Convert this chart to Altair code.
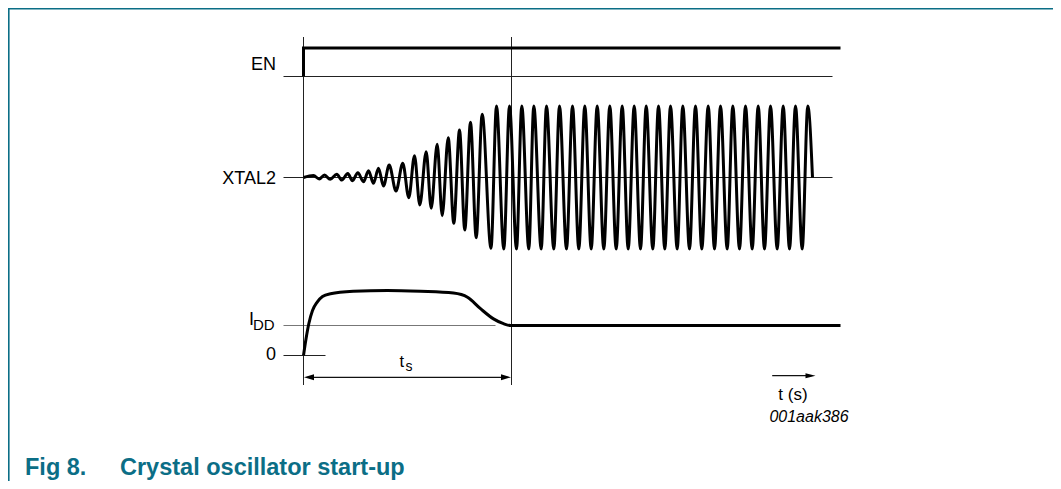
import altair as alt
import pandas as pd

# ---------------- data (time in arbitrary units: t=0 at EN rising edge) ----------------
T_S = 208          # start-up time t_s
T_END = 537        # end of the drawn traces
T_REF0, T_REF1 = -20, 529   # extent of thin reference baselines

# EN signal (0 = low, 1 = high)
en_t = [0, 0, T_END]
en_v = [0, 1, 1]

# XTAL2 extrema (normalised: steady amplitude = 1)
xtal_t = [0, 10, 15.7, 21, 26.7, 33.3, 38.3, 44.3, 49, 54.3, 60, 65, 70, 75, 80, 85.7,
          92.5, 99.3, 105.3, 111, 116.3, 122.7, 127.7, 133.7, 138.7, 144.7, 150.3, 156,
          161.3, 167, 172.7, 178.7, 187.5, 193, 200.3, 206,
          213, 218.3, 225.3, 230.3, 237.7, 243, 250.3, 256, 263, 269, 275.3, 281.3,
          287.7, 293.7, 300.3, 306.3, 312.7, 318.7, 324.7, 330.7, 337, 342.7, 349.3, 355,
          361.3, 367, 373.7, 379.3, 386, 392, 398.3, 404.7, 411, 417, 423.7, 429.3,
          436, 442, 448.7, 454.7, 461, 467, 473.7, 479.7, 486, 492, 498.7, 504.3, 509]
xtal_v = [0, 0.028, -0.021, 0.035, -0.025, 0.045, -0.035, 0.056, -0.045, 0.067, -0.059,
          0.095, -0.081, 0.129, -0.119, 0.175, -0.189, 0.199, -0.283, 0.305, -0.385, 0.361,
          -0.431, 0.464, -0.534, 0.557, -0.641, 0.664, -0.734, 0.772, -0.842, 0.884,
          -0.99, 1.0, -1.0, 1.0,
          -1.0, 1.0, -1.0, 1.0, -1.0, 1.0, -1.0, 1.0, -1.0, 1.0, -1.0, 1.0,
          -1.0, 1.0, -1.0, 1.0, -1.0, 1.0, -1.0, 1.0, -1.0, 1.0, -1.0, 1.0,
          -1.0, 1.0, -1.0, 1.0, -1.0, 1.0, -1.0, 1.0, -1.0, 1.0, -1.0, 1.0,
          -1.0, 1.0, -1.0, 1.0, -1.0, 1.0, -1.0, 1.0, -1.0, 1.0, -1.0, 1.0, 0]

# IDD (in units of the steady-state IDD)
idd_t = [0, 2.5, 5.3, 9, 13.7, 19, 27, 50, 84, 117, 150, 164, 177, 190, 200, 207, T_END]
idd_v = [0, 0.55, 1.06, 1.5, 1.78, 1.97, 2.06, 2.14, 2.17, 2.14, 2.08, 1.94, 1.56,
         1.22, 1.06, 1.0, 1.0]

# ---------------- layout (vertical placement of each trace, page pixels) ----------------
ROWS = {"EN": (76.5, 28.5), "XTAL2": (177.5, 71.5), "IDD": (355.5, 30.0)}  # baseline, gain


def row_y(sig, v):
    base, gain = ROWS[sig]
    return base - gain * v


X_DOM = [-295.5, 749.5]
Y_DOM = [8, 481]
W, H = 1045, 473
FONT = "Liberation Sans"
TEAL = "#0b6e86"

xs = alt.Scale(domain=X_DOM, nice=False, zero=False)
ys = alt.Scale(domain=Y_DOM, nice=False, zero=False, reverse=True)
X = lambda f="x": alt.X(f"{f}:Q", scale=xs, axis=None)
Y = lambda f="y": alt.Y(f"{f}:Q", scale=ys, axis=None)

# ---- thin rules
rules = pd.DataFrame([
    dict(x=T_REF0, x2=T_REF1, y=row_y("EN", 0), y2=row_y("EN", 0), c="#222", w=1),
    dict(x=T_REF0, x2=T_REF1, y=row_y("XTAL2", 0), y2=row_y("XTAL2", 0), c="#222", w=1),
    dict(x=T_REF0, x2=192, y=row_y("IDD", 1), y2=row_y("IDD", 1), c="#777", w=1),
    dict(x=T_REF0, x2=22, y=row_y("IDD", 0), y2=row_y("IDD", 0), c="#222", w=1),
    dict(x=0, x2=0, y=37, y2=385, c="#222", w=1),
    dict(x=T_S, x2=T_S, y=37, y2=385, c="#222", w=1),
    dict(x=4, x2=T_S - 4, y=377.3, y2=377.3, c="#111", w=1.2),
    dict(x=468.7, x2=508, y=375.7, y2=375.7, c="#111", w=1.2),
    # page frame
    dict(x=-294.7, x2=750, y=8.8, y2=8.8, c=TEAL, w=1.6),
    dict(x=-294.7, x2=-294.7, y=8, y2=481, c=TEAL, w=1.6),
])
rule_layer = alt.Chart(rules).mark_rule().encode(
    x=X(), x2="x2:Q", y=Y(), y2="y2:Q",
    color=alt.Color("c:N", scale=None),
    strokeWidth=alt.StrokeWidth("w:Q", scale=None),
)

# ---- traces
en_df = pd.DataFrame({"x": en_t, "y": [row_y("EN", v) for v in en_v],
                      "o": list(range(len(en_t)))})
en_layer = alt.Chart(en_df).mark_line(color="black", strokeWidth=3, strokeJoin="miter").encode(
    x=X(), y=Y(), order="o:Q")

xt_df = pd.DataFrame({"x": xtal_t, "y": [row_y("XTAL2", v) for v in xtal_v],
                      "o": list(range(len(xtal_t)))})
xt_layer = alt.Chart(xt_df).mark_line(color="black", strokeWidth=3,
                                      interpolate="monotone").encode(x=X(), y=Y(), order="o:Q")

idd_df = pd.DataFrame({"x": idd_t, "y": [row_y("IDD", v) for v in idd_v],
                       "o": list(range(len(idd_t)))})
idd_layer = alt.Chart(idd_df).mark_line(color="black", strokeWidth=3,
                                        interpolate="monotone").encode(x=X(), y=Y(), order="o:Q")

# ---- arrowheads
RIGHT = "M 0 0 L -2 -0.6 L -2 0.6 Z"
LEFT = "M 0 0 L 2 -0.6 L 2 0.6 Z"
RIGHT_T = "M 0 0 L -2 -0.5 L -2 0.5 Z"


def head(x, y, shape):
    return alt.Chart(pd.DataFrame({"x": [x], "y": [y]})).mark_point(
        shape=shape, filled=True, size=100, color="black", opacity=1, strokeWidth=0
    ).encode(x=X(), y=Y())


heads = [head(0.5, 377.3, LEFT), head(T_S - 0.5, 377.3, RIGHT), head(512, 375.7, RIGHT_T)]


# ---- texts
def text_layer(rows, align, color="black", weight="normal", style="normal"):
    df = pd.DataFrame(rows, columns=["text", "x", "y", "s"])
    return alt.Chart(df).mark_text(
        align=align, baseline="alphabetic", font=FONT, color=color,
        fontWeight=weight, fontStyle=style
    ).encode(x=X(), y=Y(), text="text:N", size=alt.Size("s:Q", scale=None))


txt_right = text_layer([
    ("EN", -27.5, 69.5, 18),
    ("XTAL2", -27.5, 183.5, 18),
    ("0", -27.5, 360.2, 18),
], "right")
txt_left = text_layer([
    ("I", -54.5, 325.2, 18),
    ("DD", -50.5, 329.6, 15),
    ("t", 96, 366.8, 16.5),
    ("s", 102, 370.6, 14),
], "left")
txt_center = text_layer([("t (s)", 489.5, 400, 17)], "center")
txt_italic = text_layer([("001aak386", 505.5, 421.6, 16)], "center", style="italic")
txt_title = text_layer([
    ("Fig 8.", -278.5, 474.5, 23.5),
    ("Crystal oscillator start-up", -183.5, 474.5, 23.5),
], "left", color=TEAL, weight="bold")

chart = alt.layer(
    rule_layer, en_layer, xt_layer, idd_layer, *heads,
    txt_right, txt_left, txt_center, txt_italic, txt_title
).properties(width=W, height=H, padding=0, autosize="none", background="white"
).configure_view(stroke=None)

chart.save("out.html", embed_options={"renderer": "svg", "actions": False})
